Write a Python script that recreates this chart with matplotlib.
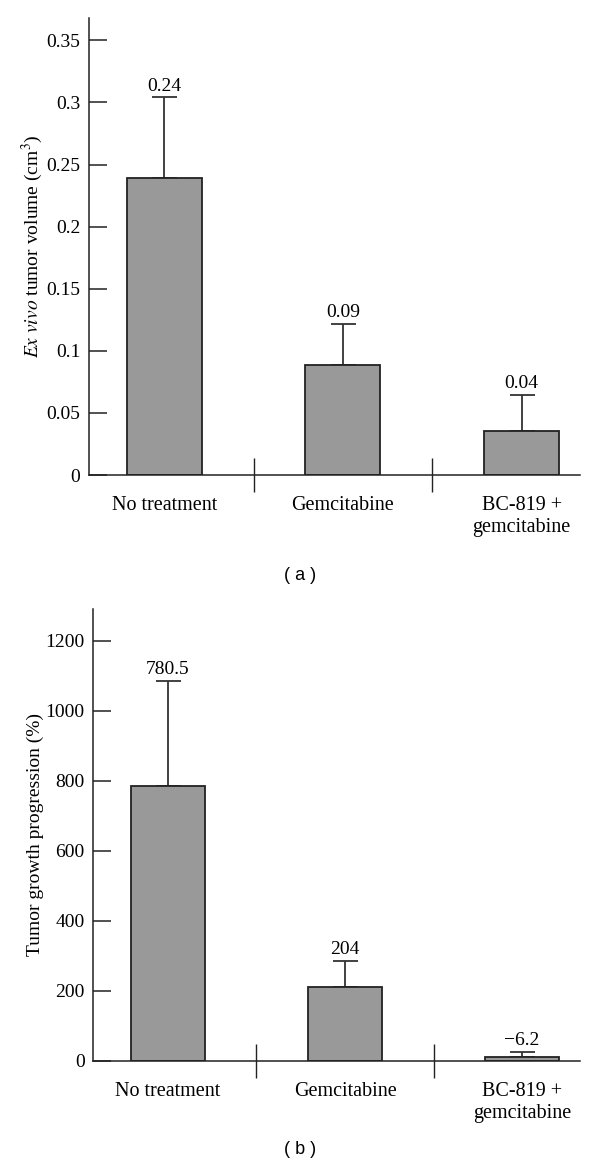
import matplotlib
matplotlib.use("Agg")
import matplotlib.pyplot as plt
from matplotlib.ticker import FuncFormatter

# 数据
groups = ['No treatment', 'Gemcitabine', 'BC-819 +\ngemcitabine']

vol_mean = [0.2395, 0.0887, 0.0355]
vol_err = [0.0645, 0.0331, 0.029]
vol_labels = ['0.24', '0.09', '0.04']
vol_ticks = [0, 0.05, 0.1, 0.15, 0.2, 0.25, 0.3, 0.35]

growth_mean = [786, 211, 11]
growth_err = [300, 75, 15]
growth_labels = ['780.5', '204', '\u22126.2']
growth_ticks = [0, 200, 400, 600, 800, 1000, 1200]

plt.rcParams['font.family'] = ['Liberation Serif', 'DejaVu Serif']
plt.rcParams['mathtext.fontset'] = 'stix'

fig = plt.figure(figsize=(6, 11.74), dpi=100)
ax1 = fig.add_axes([0.148, 0.5954, 0.819, 0.3893])
ax2 = fig.add_axes([0.155, 0.0963, 0.812, 0.385])


def draw(ax, mean, err, labels, ticks, ylim, ylabel):
    x = list(range(len(mean)))
    ax.bar(x, mean, width=0.42, color='#999999', edgecolor='#222222', linewidth=1.3, zorder=2)
    ax.errorbar(x, mean, yerr=[[0] * len(err), err], fmt='none', ecolor='#333333',
                elinewidth=1.3, capsize=9, capthick=1.3, zorder=1)
    for xi, m, e, lab in zip(x, mean, err, labels):
        ax.annotate(lab, (xi, m + e), xytext=(0, 2), textcoords='offset points',
                    ha='center', va='bottom', fontsize=14)
    ax.set_xlim(-0.423, 2.328)
    ax.set_ylim(*ylim)
    ax.set_yticks(ticks)
    ax.yaxis.set_major_formatter(FuncFormatter(lambda v, p: '%g' % v))
    ax.set_xticks(x)
    ax.set_xticklabels(groups, fontsize=14.5, linespacing=1.25)
    ax.set_xticks([0.5, 1.5], minor=True)
    ax.tick_params(axis='x', which='major', length=0, pad=15)
    ax.tick_params(axis='x', which='minor', direction='inout', length=24, width=1.0, color='#222222')
    ax.tick_params(axis='y', direction='in', length=13, width=1.1, labelsize=14, pad=6,
                   color='#222222')
    for s in ['top', 'right']:
        ax.spines[s].set_visible(False)
    for s in ['left', 'bottom']:
        ax.spines[s].set_linewidth(1.1)
        ax.spines[s].set_color('#222222')
    ax.set_ylabel(ylabel, fontsize=14, labelpad=1)


draw(ax1, vol_mean, vol_err, vol_labels, vol_ticks, (0, 0.368),
     r'$\mathit{Ex\ vivo}$ tumor volume (cm$^3$)')
draw(ax2, growth_mean, growth_err, growth_labels, growth_ticks, (0, 1291),
     'Tumor growth progression (%)')

fig.text(0.5, 1 - 575 / 1174, '( a )', ha='center', va='center', fontsize=13,
         family='Liberation Sans')
fig.text(0.5, 1 - 1150 / 1174, '( b )', ha='center', va='center', fontsize=13,
         family='Liberation Sans')

fig.savefig('out.png', dpi=100)
